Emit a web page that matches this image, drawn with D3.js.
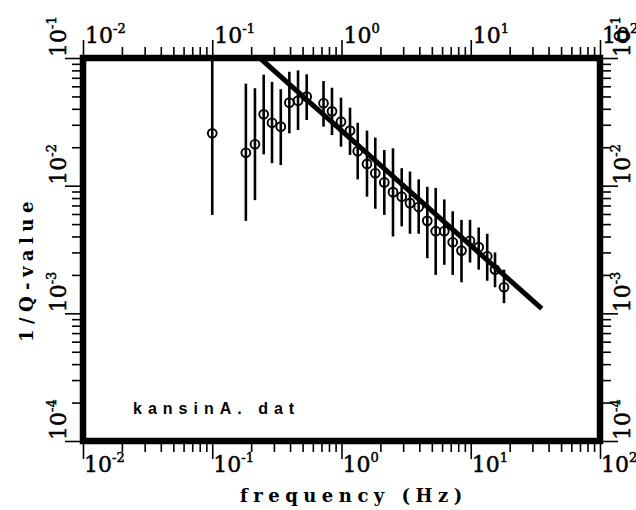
<!DOCTYPE html>
<meta charset="utf-8">
<style>

body {
  margin: 0;
  background: #fff;
}

.tick line {
  stroke: #000;
  stroke-width: 1.6;
}

.dec {
  font-family: "DejaVu Serif", serif;
  font-size: 22px;
  fill: #000;
  stroke: #000;
  stroke-width: 0.5px;
}

.title {
  font-family: "DejaVu Serif", serif;
  font-weight: bold;
  font-size: 18px;
  letter-spacing: 5.5px;
}

</style>
<svg width="636" height="510"></svg>
<script src="https://d3js.org/d3.v7.min.js"></script>
<script>

// frequency (Hz) of each estimate
var freq = [0.100, 0.182, 0.214, 0.250, 0.290, 0.339, 0.395, 0.461, 0.538, 0.726,
            0.844, 0.991, 1.164, 1.335, 1.575, 1.826, 2.144, 2.503, 2.923, 3.388,
            3.956, 4.611, 5.355, 6.243, 7.25, 8.48, 9.87, 11.52, 13.41, 15.41, 18.08];

// 1/Q estimate and its error bar ends
var qinv = [0.0257, 0.0181, 0.0211, 0.0362, 0.0311, 0.0290, 0.0447, 0.0463, 0.0498, 0.0442,
            0.0382, 0.0317, 0.0270, 0.0186, 0.0148, 0.0125, 0.0106, 0.0089, 0.0082, 0.0073,
            0.0068, 0.0053, 0.0044, 0.0044, 0.0036, 0.0031, 0.0037, 0.0033, 0.0028, 0.0022, 0.0016];
var qinvLow = [0.0059, 0.0053, 0.0077, 0.0176, 0.0150, 0.0145, 0.0257, 0.0273, 0.0327, 0.0290,
               0.0249, 0.0202, 0.0174, 0.0112, 0.0082, 0.0066, 0.0059, 0.0040, 0.0048, 0.0042,
               0.0042, 0.0027, 0.0020, 0.0024, 0.0020, 0.00175, 0.0025, 0.0022, 0.0018, 0.0016, 0.0012];
var qinvHigh = [0.1, 0.063, 0.058, 0.074, 0.065, 0.057, 0.078, 0.080, 0.0745, 0.066,
                0.0585, 0.0489, 0.0408, 0.0311, 0.0270, 0.0238, 0.0190, 0.0196, 0.0137, 0.0129,
                0.0112, 0.0098, 0.0096, 0.0078, 0.0063, 0.0054, 0.0054, 0.0047, 0.0042, 0.0030, 0.0022];

// fitted power law, drawn between its two end points
var fitFreq = [0.235, 35.4];
var fitQinv = [0.0995, 0.00109];

// decade exponents on each axis
var xDecades = [-2, -1, 0, 1, 2];
var yDecades = [-4, -3, -2, -1];

var dataFile = "kansinA. dat";
var xTitle = "frequency (Hz)";
var yTitle = "1/Q-value";

// note: "top" is taken by window.top, so the frame edges get their own names
var svg = d3.select("svg"),
    frameL = 83, frameR = 600, frameT = 58, frameB = 441;

var x = d3.scaleLog().domain([1e-2, 1e2]).range([frameL, frameR]);
var y = d3.scaleLog().domain([1e-4, 1e-1]).range([frameB, frameT]);

function minors(decs) {
  var out = [];
  decs.slice(0, -1).forEach(function(d) {
    for (var k = 2; k <= 9; k++) out.push(k * Math.pow(10, d));
  });
  return out;
}
function majors(decs) {
  return decs.map(function(d) { return Math.pow(10, d); });
}

// ticks: minor and major on all four sides, pointing outwards
function addAxis(axisFn, scale, decs, tx, ty) {
  [[minors(decs), 11], [majors(decs), 18]].forEach(function(p) {
    svg.append("g")
        .attr("transform", "translate(" + tx + "," + ty + ")")
        .call(axisFn(scale).tickValues(p[0]).tickSize(p[1]).tickSizeOuter(0).tickFormat(""))
        .call(function(g) { g.select(".domain").remove(); });
  });
}
addAxis(d3.axisBottom, x, xDecades, 0, frameB);
addAxis(d3.axisTop, x, xDecades, 0, frameT);
addAxis(d3.axisLeft, y, yDecades, frameL, 0);
addAxis(d3.axisRight, y, yDecades, frameR, 0);

function decLabel(sel) {
  sel.append("tspan").text("10");
  sel.append("tspan")
      .attr("font-size", 13)
      .attr("dy", -10)
      .text(function(d) { return d; });
}

svg.selectAll(".xb").data(xDecades).enter().append("text")
    .attr("class", "dec")
    .attr("x", function(d) { return x(Math.pow(10, d)) + 1; })
    .attr("y", 472)
    .call(decLabel);

svg.selectAll(".xt").data(xDecades).enter().append("text")
    .attr("class", "dec")
    .attr("x", function(d) { return x(Math.pow(10, d)) + 2; })
    .attr("y", 43)
    .call(decLabel);

svg.selectAll(".yl").data(yDecades).enter().append("text")
    .attr("class", "dec")
    .attr("transform", function(d) { return "translate(66," + (y(Math.pow(10, d)) - 1) + ") rotate(-90)"; })
    .call(decLabel);

svg.selectAll(".yr").data(yDecades).enter().append("text")
    .attr("class", "dec")
    .attr("transform", function(d) { return "translate(630," + (y(Math.pow(10, d)) - 1) + ") rotate(-90)"; })
    .call(decLabel);

// data inside the frame
svg.append("clipPath").attr("id", "clip")
  .append("rect")
    .attr("x", frameL).attr("y", frameT)
    .attr("width", frameR - frameL).attr("height", frameB - frameT);

var plot = svg.append("g").attr("clip-path", "url(#clip)");

plot.selectAll(".err").data(freq).enter().append("line")
    .attr("x1", function(d) { return x(d); })
    .attr("x2", function(d) { return x(d); })
    .attr("y1", function(d, i) { return y(qinvLow[i]); })
    .attr("y2", function(d, i) { return y(qinvHigh[i]); })
    .style("stroke", "#000")
    .style("stroke-width", 2.6);

plot.selectAll(".pt").data(freq).enter().append("circle")
    .attr("cx", function(d) { return x(d); })
    .attr("cy", function(d, i) { return y(qinv[i]); })
    .attr("r", 4.4)
    .style("fill", "none")
    .style("stroke", "#000")
    .style("stroke-width", 1.9);

plot.append("path")
    .datum(fitFreq.map(function(f, i) { return [f, fitQinv[i]]; }))
    .attr("d", d3.line().x(function(d) { return x(d[0]); }).y(function(d) { return y(d[1]); }))
    .style("fill", "none")
    .style("stroke", "#000")
    .style("stroke-width", 5);

// frame
svg.append("rect")
    .attr("x", frameL).attr("y", frameT)
    .attr("width", frameR - frameL).attr("height", frameB - frameT)
    .style("fill", "none")
    .style("stroke", "#000")
    .style("stroke-width", 6.5);

svg.append("text")
    .attr("x", 133).attr("y", 414)
    .style("font-family", "'Liberation Sans', sans-serif")
    .style("font-weight", "bold")
    .style("font-size", "16px")
    .style("letter-spacing", "6px")
    .text(dataFile);

svg.append("text")
    .attr("class", "title")
    .attr("x", 240).attr("y", 502)
    .text(xTitle);

svg.append("text")
    .attr("class", "title")
    .attr("transform", "translate(33,342) rotate(-90)")
    .text(yTitle);

</script>
